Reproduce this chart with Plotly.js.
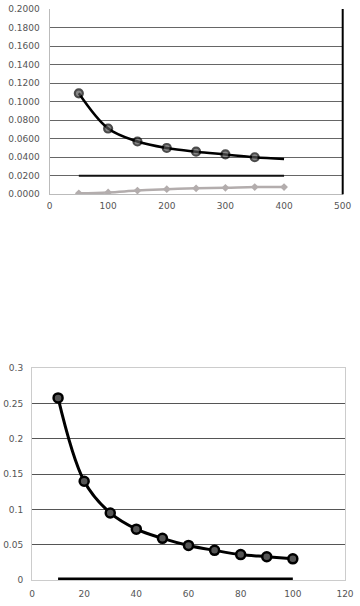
<!DOCTYPE html>
<html><head><meta charset="utf-8">
<script src="https://cdn.plot.ly/plotly-3.0.1.min.js"></script>
<style>html,body{margin:0;padding:0;background:#fff;}#c{width:360px;height:606px;}</style>
</head><body><div id="c"></div>
<script>
// Top chart data
const topX = [50, 100, 150, 200, 250, 300, 350, 400];
const topCurve = [0.109, 0.071, 0.057, 0.050, 0.046, 0.043, 0.040, 0.038];
const topFlat = [0.020, 0.020, 0.020, 0.020, 0.020, 0.020, 0.020, 0.020];
const topGray = [0.001, 0.002, 0.004, 0.0055, 0.0065, 0.007, 0.0078, 0.0078];
const topYTicks = [0, 0.02, 0.04, 0.06, 0.08, 0.10, 0.12, 0.14, 0.16, 0.18, 0.20];
const topXTicks = [0, 100, 200, 300, 400, 500];
// Bottom chart data
const botX = [10, 20, 30, 40, 50, 60, 70, 80, 90, 100];
const botCurve = [0.258, 0.140, 0.095, 0.072, 0.059, 0.049, 0.042, 0.036, 0.033, 0.030];
const botZero = [0, 0, 0, 0, 0, 0, 0, 0, 0, 0];
const botYTicks = [0, 0.05, 0.1, 0.15, 0.2, 0.25, 0.3];
const botXTicks = [0, 20, 40, 60, 80, 100, 120];

const font = {family: 'DejaVu Sans, Verdana, sans-serif', size: 9, color: '#555'};

const traces = [
  {x: topX, y: topFlat, xaxis: 'x', yaxis: 'y', mode: 'lines', line: {color: '#111', width: 2}},
  {x: topX, y: topGray, xaxis: 'x', yaxis: 'y', mode: 'lines+markers', line: {color: '#b3adad', width: 2.5, shape: 'spline'},
   marker: {symbol: 'diamond', size: 6, color: '#b3adad'}},
  {x: topX, y: topCurve, xaxis: 'x', yaxis: 'y', mode: 'lines+markers', line: {color: '#000', width: 2.5, shape: 'spline'},
   marker: {symbol: 'circle', color: '#555', line: {color: '#000', width: 2.2},
            size: topX.map((v, i) => i === topX.length - 1 ? 0 : 8)}},
  {x: botX, y: botZero, xaxis: 'x2', yaxis: 'y2', mode: 'lines', line: {color: '#000', width: 5}},
  {x: botX, y: botCurve, xaxis: 'x2', yaxis: 'y2', mode: 'lines+markers', line: {color: '#000', width: 3, shape: 'spline'},
   marker: {symbol: 'circle', size: 9, color: '#555', line: {color: '#000', width: 2.5}}}
];

const layout = {
  width: 360, height: 606,
  margin: {l: 0, r: 0, t: 0, b: 0},
  paper_bgcolor: '#fff', plot_bgcolor: '#fff',
  showlegend: false,
  font: font,
  xaxis: {domain: [49.5/360, 342.7/360], anchor: 'y', range: [0, 500], tickvals: topXTicks,
    showgrid: false, zeroline: false, showline: true, linecolor: '#bbb', linewidth: 1,
    ticks: '', ticklabelstandoff: 3, tickfont: font, fixedrange: true},
  yaxis: {domain: [1 - 194.3/606, 1 - 9/606], anchor: 'x', range: [0, 0.2], tickvals: topYTicks,
    tickformat: '.4f', showgrid: true, gridcolor: '#666', gridwidth: 1, zeroline: false,
    showline: true, linecolor: '#bbb', linewidth: 1, ticks: '', ticklabelstandoff: 7, tickfont: font, fixedrange: true},
  xaxis2: {domain: [32/360, 345/360], anchor: 'y2', range: [0, 120], tickvals: botXTicks,
    showgrid: false, zeroline: false, showline: true, linecolor: '#ccc', linewidth: 1, mirror: true,
    ticks: '', ticklabelstandoff: 5, tickfont: font, fixedrange: true},
  yaxis2: {domain: [1 - 580/606, 1 - 368.3/606], anchor: 'x2', range: [0, 0.3], tickvals: botYTicks,
    showgrid: true, gridcolor: '#555', gridwidth: 1, zeroline: false,
    showline: true, linecolor: '#ccc', linewidth: 1, mirror: true, ticks: '', ticklabelstandoff: 6, tickfont: font, fixedrange: true},
  shapes: [
    {type: 'line', xref: 'x domain', yref: 'y domain', x0: 1, x1: 1, y0: 0, y1: 1, line: {color: '#000', width: 2}}
  ]
};

Plotly.newPlot('c', traces, layout, {staticPlot: true, displayModeBar: false});
</script>
</body></html>
